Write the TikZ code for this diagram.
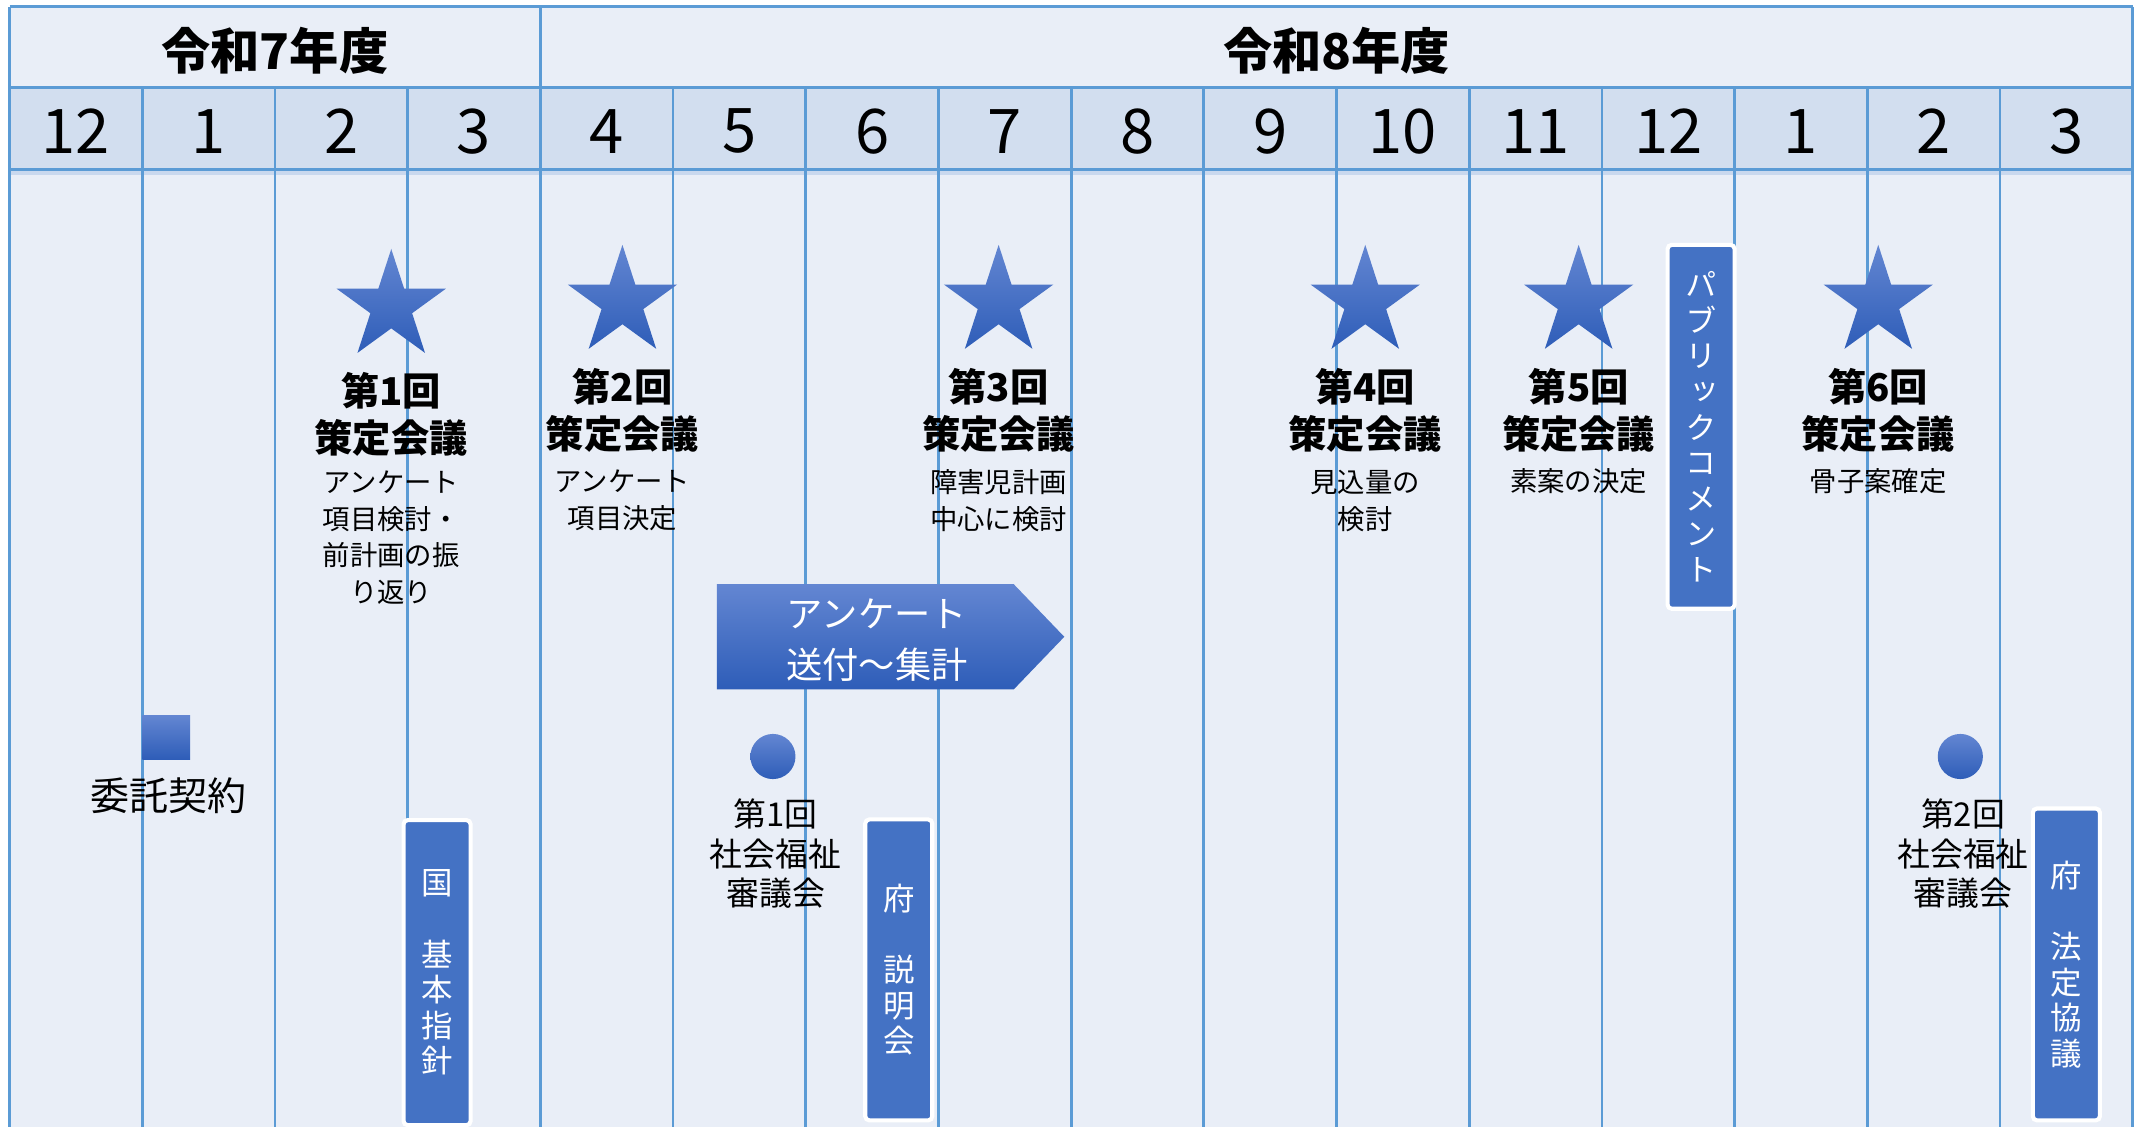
\documentclass[tikz,border=0pt]{standalone}
\usepackage{fontspec}
\setmainfont{Noto Sans CJK JP}
\newfontfamily\vfont[RawFeature=+vert]{Noto Sans CJK JP}
\usetikzlibrary{shapes.geometric}
\definecolor{bgc}{HTML}{E9EEF7}
\definecolor{monthc}{HTML}{D2DEEF}
\definecolor{bandc}{HTML}{C9D8EE}
\definecolor{gridc}{HTML}{5B9BD5}
\definecolor{boxc}{HTML}{4472C4}
\definecolor{gtop}{HTML}{6386D2}
\definecolor{gbot}{HTML}{2E5DB8}
\begin{document}
\begin{tikzpicture}[x=1pt,y=-1pt,
  gridline/.style={draw=gridc, line width=2pt},
  starshape/.style={star, star points=5, star point ratio=2.618, minimum size=84pt, inner sep=0pt, top color=gtop, bottom color=gbot, draw=none},
  grad/.style={top color=gtop, bottom color=gbot, draw=none},
  yeartxt/.style={font=\bfseries\fontsize{36}{40}\selectfont, inner sep=0pt},
  monthtxt/.style={font=\fontsize{45}{48}\selectfont, inner sep=0pt},
  titletxt/.style={font=\bfseries\fontsize{28}{34}\selectfont, align=center, inner sep=0pt},
  detailtxt/.style={font=\fontsize{20}{27}\selectfont, align=center, inner sep=0pt},
  labeltxt/.style={font=\fontsize{24}{29}\selectfont, align=center, inner sep=0pt},
  vbox/.style={fill=boxc, draw=white, line width=3pt, rounded corners=3pt, minimum width=49pt, text=white, align=center, font=\vfont\fontsize{23}{26}\selectfont, inner sep=0pt}
]
\useasboundingbox (0,0) rectangle (1568,824);
\fill[white] (0,0) rectangle (1568,824);
% table background
\fill[bgc] (7,5) rectangle (1559,824);
\fill[monthc] (7,64) rectangle (1559,124);
\fill[bandc] (7,124) rectangle (1559,128);
% grid lines
\draw[gridline] (7,5) -- (1559,5);
\draw[gridline] (7,64) -- (1559,64);
\draw[gridline] (7,124) -- (1559,124);
\draw[gridline] (7,5) -- (7,824);
\draw[gridline] (1559,5) -- (1559,824);
\draw[gridline] (395,5) -- (395,64);
\foreach \i in {1,...,15} {
  \draw[gridline] ({7+97*\i},64) -- ({7+97*\i},824);
}
% year headers
\node[yeartxt] (y7) at (201,37) {令和7年度};
\node[yeartxt] (y8) at (977,37) {令和8年度};
% months
\foreach \m [count=\i from 0] in {12,1,2,3,4,5,6,7,8,9,10,11,12,1,2,3} {
  \node[monthtxt] (m\i) at ({7+97*\i+48.5},96) {\m};
}
% stars and meetings
\node[starshape] (s1) at (286,224) {};
\node[starshape] (s2) at (455,221) {};
\node[starshape] (s3) at (730,221) {};
\node[starshape] (s4) at (998,221) {};
\node[starshape] (s5) at (1154,221) {};
\node[starshape] (s6) at (1373,221) {};
\node[titletxt] (t1) at (286,303) {第1回\\策定会議};
\node[titletxt] (t2) at (455,300) {第2回\\策定会議};
\node[titletxt] (t3) at (730,300) {第3回\\策定会議};
\node[titletxt] (t4) at (998,300) {第4回\\策定会議};
\node[titletxt] (t5) at (1154,300) {第5回\\策定会議};
\node[titletxt] (t6) at (1373,300) {第6回\\策定会議};
\node[detailtxt] (d1) at (286,393) {アンケート\\項目検討・\\前計画の振\\り返り};
\node[detailtxt] (d2) at (455,366) {アンケート\\項目決定};
\node[detailtxt] (d3) at (730,366) {障害児計画\\中心に検討};
\node[detailtxt] (d4) at (998,366) {見込量の\\検討};
\node[detailtxt] (d5) at (1154,352) {素案の決定};
\node[detailtxt] (d6) at (1373,352) {骨子案確定};
% public comment
\node[vbox, minimum height=266pt] (pc) at (1243.5,312) {パ\\ブ\\リ\\ッ\\ク\\コ\\メ\\ン\\ト};
% survey arrow
\path[grad] (524,427) -- (741,427) -- (778,465.5) -- (741,504) -- (524,504) -- cycle;
\node[font=\fontsize{26.5}{37}\selectfont, text=white, align=center, inner sep=0pt] (survey) at (641,468) {アンケート\\送付～集計};
% contract
\path[grad] (104,523) rectangle (139,555);
\node[font=\fontsize{28.5}{30}\selectfont, inner sep=0pt] (contract) at (123,582) {委託契約};
% welfare councils
\node[circle, grad, minimum size=33pt, inner sep=0pt] (c1) at (565,553) {};
\node[labeltxt] (cl1) at (567,624) {第1回\\社会福祉\\審議会};
\node[circle, grad, minimum size=33pt, inner sep=0pt] (c2) at (1433,553) {};
\node[labeltxt] (cl2) at (1435,624) {第2回\\社会福祉\\審議会};
% vertical boxes
\node[vbox, minimum height=223pt] (kuni) at (319.5,711) {国\\　\\基\\本\\指\\針};
\node[vbox, minimum height=220pt] (fu1) at (657,709) {府\\　\\説\\明\\会};
\node[vbox, minimum height=228pt] (fu2) at (1510.5,705) {府\\　\\法\\定\\協\\議};
\end{tikzpicture}
\end{document}
